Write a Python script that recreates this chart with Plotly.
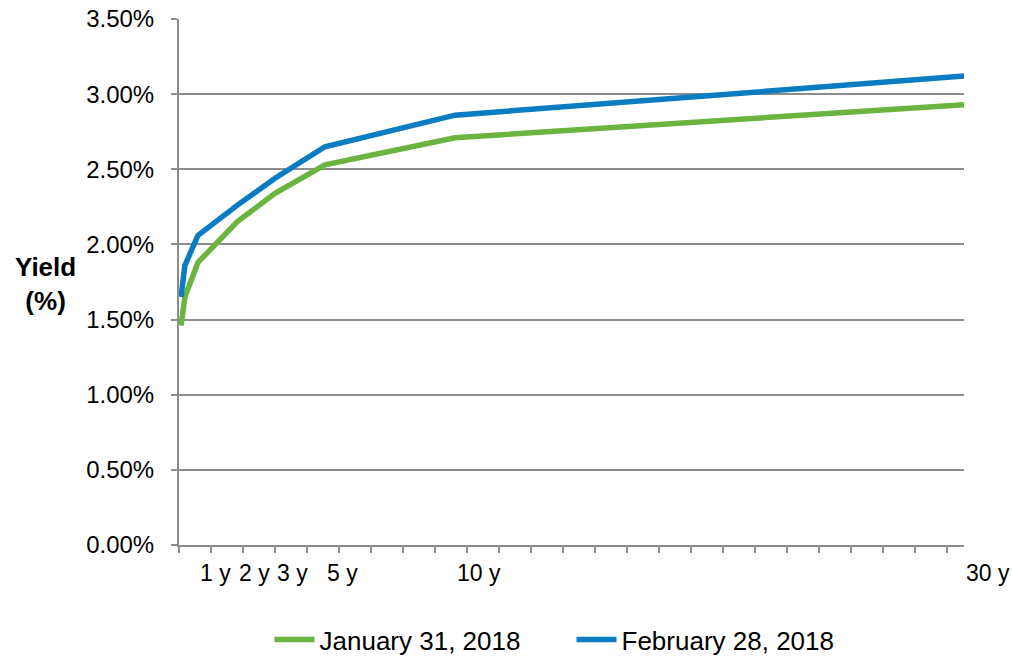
import plotly.graph_objects as go

# Treasury tenors and where each sits along the maturity axis (axis units)
tenors = ["3 m", "6 m", "1 y", "2 y", "3 y", "5 y", "10 y", "30 y"]
term_pos = [0.08, 0.23, 0.74, 2.27, 3.75, 5.70, 10.78, 30.66]

# Yields in percent
yield_jan = [1.46, 1.65, 1.88, 2.15, 2.34, 2.53, 2.71, 2.93]
yield_feb = [1.65, 1.86, 2.06, 2.26, 2.44, 2.65, 2.86, 3.12]

series_names = ["January 31, 2018", "February 28, 2018"]
series_colors = ["#6BB43F", "#0A7DC2"]

# Tenors that get a label under the axis
labeled_tenors = ["1 y", "2 y", "3 y", "5 y", "10 y", "30 y"]

FONT = "Liberation Sans, Arial, sans-serif"
GRID = "#8C8C8C"

fig = go.Figure()
for name, color, vals in zip(series_names, series_colors, [yield_jan, yield_feb]):
    fig.add_trace(go.Scatter(
        x=term_pos,
        y=[v / 100 for v in vals],
        mode="lines",
        name=name,
        line=dict(color=color, width=5.5),
        hoverinfo="skip",
    ))

for t in labeled_tenors:
    fig.add_annotation(
        x=term_pos[tenors.index(t)], xref="x",
        y=-0.053, yref="paper",
        text=t, showarrow=False,
        xanchor="left", yanchor="middle",
        font=dict(family=FONT, size=23, color="#000000"),
    )

fig.add_annotation(
    x=-0.1707, xref="paper", y=0.496, yref="paper",
    text="<b>Yield<br>(%)</b>", showarrow=False,
    xanchor="center", yanchor="middle",
    font=dict(family=FONT, size=26, color="#000000"),
)

fig.update_layout(
    width=1013, height=660,
    margin=dict(l=179, r=49, t=19, b=115, autoexpand=False),
    paper_bgcolor="white",
    plot_bgcolor="white",
    font=dict(family=FONT, size=24, color="#000000"),
    showlegend=True,
    legend=dict(
        orientation="h",
        x=0.5, xanchor="center",
        y=-0.18, yanchor="middle",
        font=dict(family=FONT, size=26, color="#000000"),
        itemwidth=40,
        entrywidth=247, entrywidthmode="pixels",
        traceorder="normal",
    ),
    xaxis=dict(
        range=[0, 30.66],
        tick0=0, dtick=1.25,
        ticks="outside", ticklen=6, tickwidth=1.5, tickcolor=GRID,
        showticklabels=False,
        showgrid=False, zeroline=False,
        showline=True, linecolor=GRID, linewidth=2,
        fixedrange=True,
    ),
    yaxis=dict(
        range=[0, 0.035],
        tick0=0, dtick=0.005,
        tickformat=".2%",
        ticks="outside", ticklen=6, tickwidth=1.5, tickcolor=GRID,
        ticklabelstandoff=12,
        showgrid=True, gridcolor=GRID, gridwidth=1.5,
        zeroline=False,
        showline=True, linecolor=GRID, linewidth=2,
        tickfont=dict(family=FONT, size=24, color="#000000"),
        fixedrange=True,
    ),
)

fig.write_html("out.html")
